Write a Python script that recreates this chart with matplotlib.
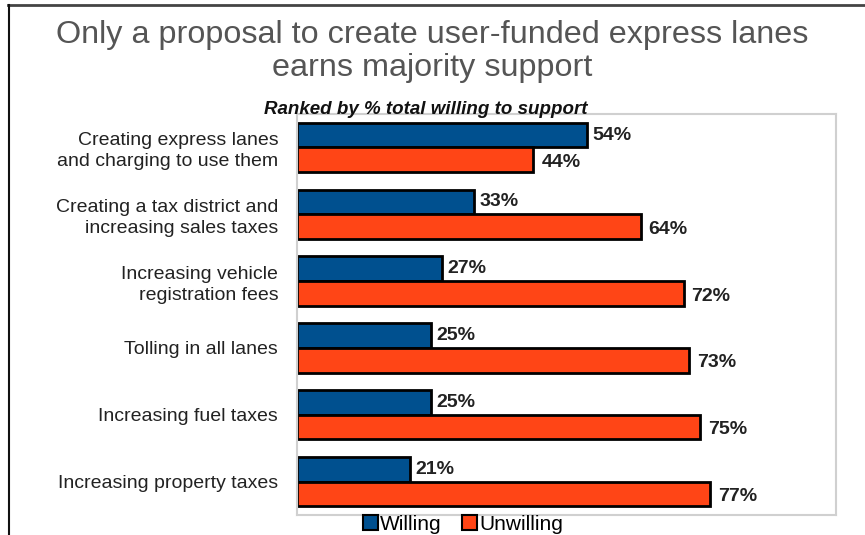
import numpy as np
import matplotlib.pyplot as plt
from matplotlib.lines import Line2D
from matplotlib.patches import Rectangle

plt.rcParams['font.family'] = ['Liberation Sans', 'DejaVu Sans']

# 調査結果（% 回答者）
categories = [
    "Creating express lanes\nand charging to use them",
    "Creating a tax district and\nincreasing sales taxes",
    "Increasing vehicle\nregistration fees",
    "Tolling in all lanes",
    "Increasing fuel taxes",
    "Increasing property taxes",
]
willing = [54, 33, 27, 25, 25, 21]
unwilling = [44, 64, 72, 73, 75, 77]

BLUE = "#00508F"
ORANGE = "#FF4516"

W, H = 865, 535
fig = plt.figure(figsize=(W / 100, H / 100), dpi=100)
ax = fig.add_axes([297 / W, 1 - 515 / H, (836 - 297) / W, (515 - 114) / H])

n = len(categories)
y = np.arange(n)
h = 0.37
ax.barh(y - h / 2, willing, height=h, color=BLUE, edgecolor="black", linewidth=2, label="Willing")
ax.barh(y + h / 2, unwilling, height=h, color=ORANGE, edgecolor="black", linewidth=2, label="Unwilling")

for yi, w, u in zip(y, willing, unwilling):
    ax.text(w + 1.0, yi - h / 2, f"{w}%", va="center", ha="left",
            fontsize=14, fontweight="bold", color="#222222")
    ax.text(u + 1.5, yi + h / 2 + 0.04, f"{u}%", va="center", ha="left",
            fontsize=14, fontweight="bold", color="#222222")

ax.set_xlim(0, 100.4)
ax.set_ylim(n - 0.5, -0.5)
ax.set_xticks([])
ax.set_yticks(y)
ax.set_yticklabels(categories, fontsize=14, color="#222222", linespacing=1.3)
ax.tick_params(axis="y", length=0, pad=13.5)
for s in ax.spines.values():
    s.set_color("#d0d0d0")
    s.set_linewidth(1.5)

# タイトルとサブタイトル
fig.text(0.5, 1 - 35 / H, "Only a proposal to create user-funded express lanes",
         ha="center", va="center", fontsize=23.3, color="#555555")
fig.text(0.5, 1 - 68 / H, "earns majority support",
         ha="center", va="center", fontsize=23.3, color="#555555")
fig.text(426 / W, 1 - 110 / H, "Ranked by % total willing to support",
         ha="center", va="center", fontsize=13.5, fontweight="bold",
         fontstyle="italic", color="#111111")

# 凡例
leg = fig.legend(handles=[Rectangle((0, 0), 1, 1, facecolor=BLUE, edgecolor="black", linewidth=1.5),
                          Rectangle((0, 0), 1, 1, facecolor=ORANGE, edgecolor="black", linewidth=1.5)],
                 labels=["Willing", "Unwilling"], loc="center", bbox_to_anchor=(463 / W, 1 - 524 / H),
                 ncol=2, frameon=False, fontsize=15, handlelength=0.7, handleheight=0.7,
                 handletextpad=0.1, columnspacing=1.0, borderaxespad=0)

# 外枠
fig.add_artist(Line2D([8 / W, 1], [1 - 4.5 / H] * 2, color="#444444", linewidth=2))
fig.add_artist(Line2D([8.5 / W] * 2, [0, 1 - 4.5 / H], color="#111111", linewidth=1.5))

fig.savefig("out.png", dpi=100)
